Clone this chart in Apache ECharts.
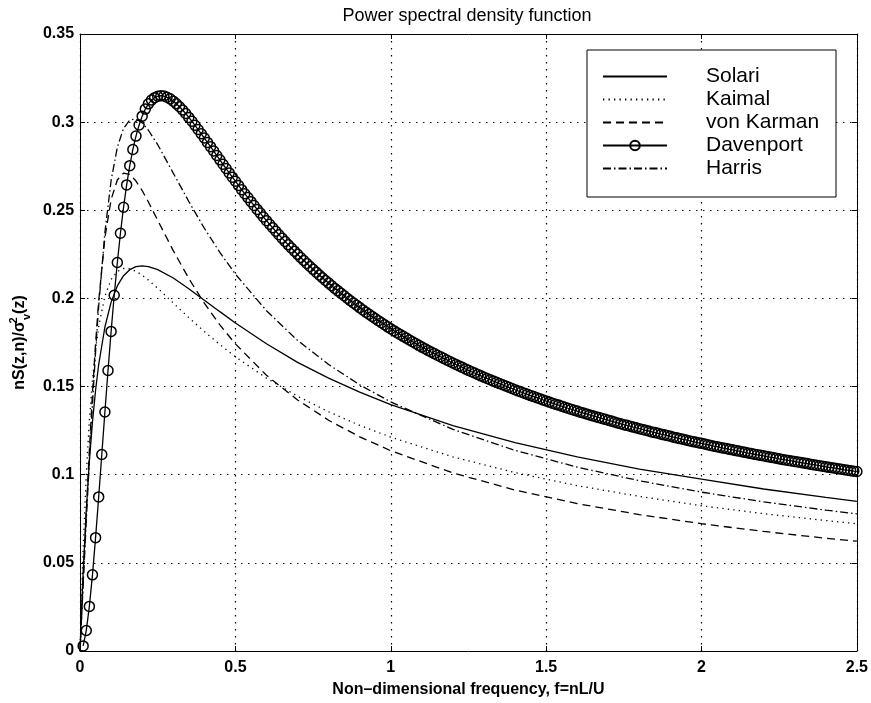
<!DOCTYPE html>
<html><head><meta charset="utf-8">
<script src="https://cdn.jsdelivr.net/npm/echarts@6/dist/echarts.min.js"></script>
<style>html,body{margin:0;padding:0;background:#fff}#c{width:871px;height:703px}</style>
</head><body><div id="c"></div>
<script>
// Frequency grid for the plain line curves
const freq = [0, 0.005, 0.01, 0.02, 0.03, 0.04, 0.05, 0.06, 0.08, 0.1, 0.12, 0.14, 0.16, 0.18, 0.2, 0.22, 0.25, 0.3, 0.35, 0.4, 0.45, 0.5, 0.6, 0.7, 0.8, 0.9, 1.0, 1.2, 1.4, 1.6, 1.8, 2.0, 2.2, 2.4, 2.5];
const solari = [0, 0.0237, 0.0446, 0.0797, 0.1076, 0.1299, 0.1479, 0.1625, 0.1838, 0.1979, 0.2071, 0.2129, 0.2163, 0.2180, 0.2185, 0.2181, 0.2163, 0.2116, 0.2055, 0.1990, 0.1925, 0.1861, 0.1743, 0.1637, 0.1548, 0.1469, 0.1398, 0.1278, 0.1182, 0.1101, 0.1032, 0.0975, 0.0919, 0.0871, 0.0849];
const kaimal = [0, 0.0313, 0.0578, 0.0998, 0.1307, 0.1538, 0.1711, 0.1841, 0.2013, 0.2107, 0.2153, 0.2170, 0.2168, 0.2154, 0.2132, 0.2104, 0.2058, 0.1974, 0.1891, 0.1812, 0.1738, 0.1669, 0.1548, 0.1445, 0.1357, 0.1280, 0.1213, 0.1101, 0.1012, 0.0938, 0.0877, 0.0824, 0.0779, 0.0740, 0.0722];
const vonKarman = [0, 0.0200, 0.0398, 0.0782, 0.1140, 0.1463, 0.1746, 0.1986, 0.2344, 0.2561, 0.2672, 0.2711, 0.2704, 0.2666, 0.2612, 0.2547, 0.2443, 0.2271, 0.2113, 0.1973, 0.1850, 0.1742, 0.1564, 0.1424, 0.1309, 0.1215, 0.1136, 0.1010, 0.0913, 0.0836, 0.0774, 0.0722, 0.0678, 0.0640, 0.0623];
const harris = [0, 0.0187, 0.0373, 0.0736, 0.1082, 0.1404, 0.1696, 0.1956, 0.2375, 0.2669, 0.2857, 0.2965, 0.3012, 0.3018, 0.2996, 0.2954, 0.2872, 0.2711, 0.2550, 0.2398, 0.2261, 0.2138, 0.1930, 0.1762, 0.1625, 0.1510, 0.1413, 0.1257, 0.1138, 0.1043, 0.0966, 0.0901, 0.0846, 0.0799, 0.0778];
// Davenport: one marker every 0.01 from f = 0.01 to f = 2.50
const davenport = [
0.0029, 0.0116, 0.0253, 0.0432, 0.0643, 0.0874, 0.1115, 0.1356, 0.1591, 0.1813,
0.2018, 0.2204, 0.2370, 0.2517, 0.2644, 0.2753, 0.2845, 0.2921, 0.2984, 0.3034,
0.3074, 0.3104, 0.3125, 0.3139, 0.3147, 0.3150, 0.3148, 0.3141, 0.3132, 0.3119,
0.3104, 0.3087, 0.3069, 0.3049, 0.3027, 0.3005, 0.2982, 0.2958, 0.2934, 0.2910,
0.2885, 0.2861, 0.2836, 0.2811, 0.2786, 0.2761, 0.2737, 0.2712, 0.2688, 0.2665,
0.2641, 0.2617, 0.2594, 0.2572, 0.2549, 0.2527, 0.2505, 0.2484, 0.2462, 0.2441,
0.2421, 0.2401, 0.2381, 0.2361, 0.2342, 0.2323, 0.2304, 0.2286, 0.2268, 0.2250,
0.2232, 0.2215, 0.2198, 0.2181, 0.2165, 0.2149, 0.2133, 0.2117, 0.2102, 0.2087,
0.2072, 0.2057, 0.2043, 0.2029, 0.2015, 0.2001, 0.1987, 0.1974, 0.1961, 0.1948,
0.1935, 0.1922, 0.1910, 0.1898, 0.1886, 0.1874, 0.1862, 0.1851, 0.1839, 0.1828,
0.1817, 0.1806, 0.1796, 0.1785, 0.1775, 0.1764, 0.1754, 0.1744, 0.1734, 0.1724,
0.1715, 0.1705, 0.1696, 0.1687, 0.1678, 0.1669, 0.1660, 0.1651, 0.1642, 0.1634,
0.1625, 0.1617, 0.1609, 0.1600, 0.1592, 0.1584, 0.1577, 0.1569, 0.1561, 0.1553,
0.1546, 0.1539, 0.1531, 0.1524, 0.1517, 0.1510, 0.1503, 0.1496, 0.1489, 0.1482,
0.1475, 0.1469, 0.1462, 0.1456, 0.1449, 0.1443, 0.1437, 0.1431, 0.1424, 0.1418,
0.1412, 0.1406, 0.1400, 0.1395, 0.1389, 0.1383, 0.1377, 0.1372, 0.1366, 0.1361,
0.1355, 0.1350, 0.1345, 0.1339, 0.1334, 0.1329, 0.1324, 0.1319, 0.1314, 0.1309,
0.1304, 0.1299, 0.1294, 0.1289, 0.1284, 0.1280, 0.1275, 0.1270, 0.1266, 0.1261,
0.1257, 0.1252, 0.1248, 0.1243, 0.1239, 0.1235, 0.1230, 0.1226, 0.1222, 0.1218,
0.1213, 0.1209, 0.1205, 0.1201, 0.1197, 0.1193, 0.1189, 0.1185, 0.1181, 0.1178,
0.1174, 0.1170, 0.1166, 0.1162, 0.1159, 0.1155, 0.1151, 0.1148, 0.1144, 0.1141,
0.1137, 0.1134, 0.1130, 0.1127, 0.1123, 0.1120, 0.1116, 0.1113, 0.1110, 0.1107,
0.1103, 0.1100, 0.1097, 0.1094, 0.1090, 0.1087, 0.1084, 0.1081, 0.1078, 0.1075,
0.1072, 0.1069, 0.1066, 0.1063, 0.1060, 0.1057, 0.1054, 0.1051, 0.1048, 0.1045,
0.1042, 0.1040, 0.1037, 0.1034, 0.1031, 0.1028, 0.1026, 0.1023, 0.1020, 0.1018
];
const davenportStart = 0.01, davenportStep = 0.01;
const davenportFreq = davenport.map((_, i) => Math.round((davenportStart + i * davenportStep) * 100) / 100);

const xTickLabels = ['0', '0.5', '1', '1.5', '2', '2.5'];
const yTickLabels = ['0', '0.05', '0.1', '0.15', '0.2', '0.25', '0.3', '0.35'];

const titleText = 'Power spectral density function';
const xName = 'Non\u2013dimensional frequency, f=nL/U';
const seriesNames = ['Solari', 'Kaimal', 'von Karman', 'Davenport', 'Harris'];

const FONT = '"Liberation Sans", Arial, Helvetica, sans-serif';
const pairs = (xs, ys) => xs.map((x, i) => [x, ys[i]]);

const chart = echarts.init(document.getElementById('c'), null, {renderer: 'canvas'});

const axisCommonX = {
  type: 'value', min: 0, max: 2.5, interval: 0.5,
  axisLine: {show: true, onZero: false, lineStyle: {color: '#000', width: 1}},
  axisTick: {show: true, inside: true, length: 5, lineStyle: {color: '#000', width: 1}}
};
const axisCommonY = {
  type: 'value', min: 0, max: 0.35, interval: 0.05,
  axisLine: {show: true, onZero: false, lineStyle: {color: '#000', width: 1}},
  axisTick: {show: true, inside: true, length: 5, lineStyle: {color: '#000', width: 1}}
};
const gridDots = {show: true, lineStyle: {color: '#000', width: 1.2, type: [1.4, 5.6]}};
const noSymbol = {color: 'rgba(0,0,0,0)', borderColor: 'rgba(0,0,0,0)', borderWidth: 0};

const option = {
  animation: false,
  backgroundColor: '#fff',
  title: {
    text: titleText, left: 462, top: 2, textAlign: 'center',
    textStyle: {fontFamily: FONT, fontSize: 18, fontWeight: 'normal', color: '#000'}
  },
  grid: {left: 75, right: 14, top: 34, bottom: 51, containLabel: false},
  legend: {
    orient: 'vertical', left: 587, top: 50,
    backgroundColor: '#fff', borderColor: '#000', borderWidth: 1,
    padding: [16, 10, 18, 15], itemGap: 2, itemWidth: 64, itemHeight: 12,
    textStyle: {fontFamily: FONT, fontSize: 21, color: '#000', padding: [0, 0, 0, 34], width: 120, lineHeight: 21},
    data: [
      {name: seriesNames[0], itemStyle: noSymbol},
      {name: seriesNames[1], itemStyle: noSymbol},
      {name: seriesNames[2], itemStyle: noSymbol},
      {name: seriesNames[3]},
      {name: seriesNames[4], itemStyle: noSymbol}
    ]
  },
  xAxis: [
    Object.assign({}, axisCommonX, {
      position: 'bottom',
      axisLabel: {margin: 9, fontFamily: FONT, fontSize: 16, fontWeight: 'bold', color: '#000',
        formatter: v => xTickLabels[Math.round(v / 0.5)]},
      splitLine: gridDots,
      name: xName, nameLocation: 'middle', nameGap: 31,
      nameTextStyle: {fontFamily: FONT, fontSize: 16, fontWeight: 'bold', color: '#000'}
    }),
    Object.assign({}, axisCommonX, {position: 'top', axisLabel: {show: false}, splitLine: {show: false}})
  ],
  yAxis: [
    Object.assign({}, axisCommonY, {
      position: 'left',
      axisLabel: {margin: 6, fontFamily: FONT, fontSize: 16, fontWeight: 'bold', color: '#000',
        formatter: v => yTickLabels[Math.round(v / 0.05)]},
      splitLine: gridDots,
      name: '{a|nS(z,n)/\u03c3}{sup|2}{sub|v}{a|(z)}', nameLocation: 'middle', nameGap: 42,
      nameTextStyle: {
        fontFamily: FONT, fontSize: 16, fontWeight: 'bold', color: '#000',
        rich: {
          a: {fontFamily: FONT, fontSize: 16, fontWeight: 'bold', color: '#000', lineHeight: 24, verticalAlign: 'middle'},
          sup: {fontFamily: FONT, fontSize: 11, fontWeight: 'bold', color: '#000', width: 1, lineHeight: 11, verticalAlign: 'top'},
          sub: {fontFamily: FONT, fontSize: 11, fontWeight: 'bold', color: '#000', lineHeight: 11, verticalAlign: 'bottom'}
        }
      }
    }),
    Object.assign({}, axisCommonY, {position: 'right', axisLabel: {show: false}, splitLine: {show: false}})
  ],
  series: [
    {name: seriesNames[0], type: 'line', data: pairs(freq, solari), symbol: 'none', z: 3,
      itemStyle: {color: '#000'}, lineStyle: {color: '#000', width: 1.3, type: 'solid'}},
    {name: seriesNames[1], type: 'line', data: pairs(freq, kaimal), symbol: 'none', z: 3,
      itemStyle: {color: '#000'}, lineStyle: {color: '#000', width: 1.3, type: [1.3, 4.2]}},
    {name: seriesNames[2], type: 'line', data: pairs(freq, vonKarman), symbol: 'none', z: 3,
      itemStyle: {color: '#000'}, lineStyle: {color: '#000', width: 1.3, type: [8, 5]}},
    {name: seriesNames[3], type: 'line', data: pairs(davenportFreq, davenport), z: 4,
      symbol: 'circle', symbolSize: 10, showSymbol: true, showAllSymbol: true,
      itemStyle: {color: 'rgba(0,0,0,0)', borderColor: '#000', borderWidth: 1.5},
      lineStyle: {color: '#000', width: 1.3, type: 'solid'}},
    {name: seriesNames[4], type: 'line', data: pairs(freq, harris), symbol: 'none', z: 3,
      itemStyle: {color: '#000'}, lineStyle: {color: '#000', width: 1.3, type: [8, 3, 1.5, 3]}}
  ]
};
chart.setOption(option);
</script>
</body></html>
